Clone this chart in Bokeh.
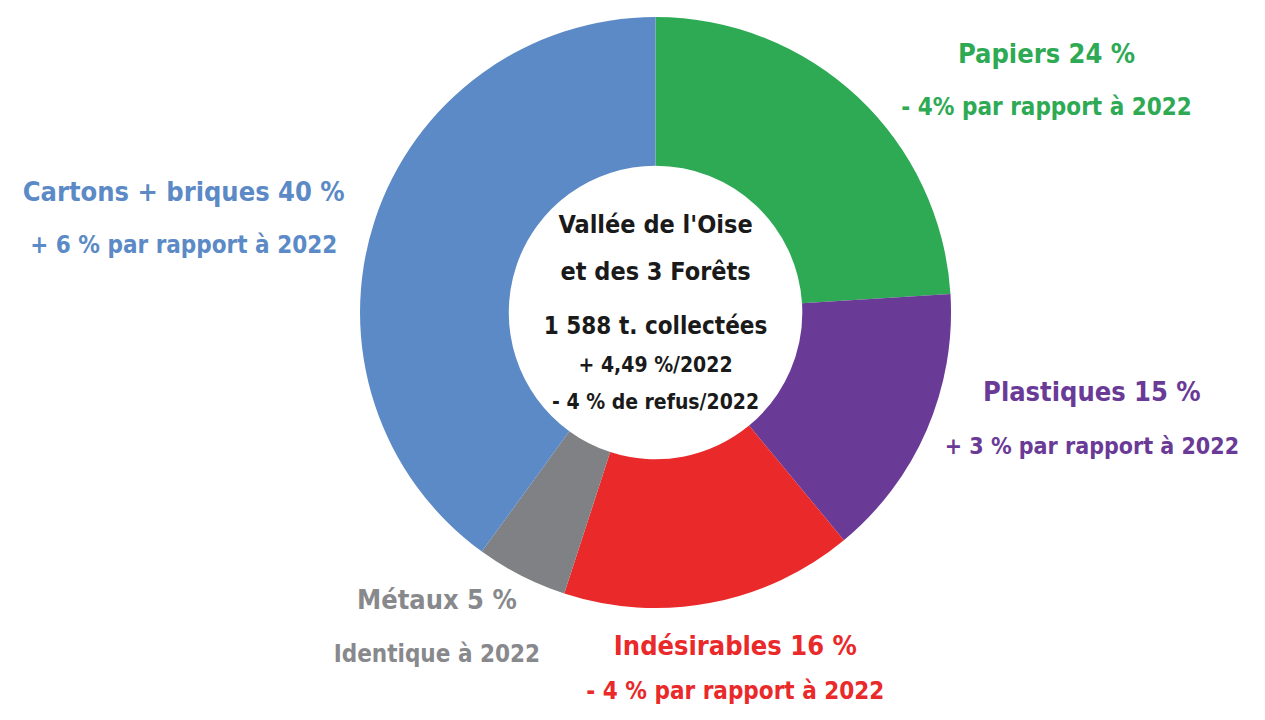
import math
from bokeh.plotting import figure
from bokeh.models import ColumnDataSource, Range1d
from bokeh.core.properties import value
from bokeh.embed import file_html
from bokeh.resources import INLINE

# ---- data ----
categories = ["Papiers", "Plastiques", "Indésirables", "Métaux", "Cartons + briques"]
shares = [24, 15, 16, 5, 40]
labels = ["Papiers 24 %", "Plastiques 15 %", "Indésirables 16 %", "Métaux 5 %", "Cartons + briques 40 %"]
sublabels = ["- 4% par rapport à 2022", "+ 3 % par rapport à 2022", "- 4 % par rapport à 2022",
             "Identique à 2022", "+ 6 % par rapport à 2022"]
center_lines = ["Vallée de l'Oise", "et des 3 Forêts", "1 588 t. collectées", "+ 4,49 %/2022", "- 4 % de refus/2022"]

# ---- styles / layout ----
colors = ["#2EAA54", "#6A3A97", "#E9292A", "#7F8185", "#5B8AC6"]
text_colors = ["#2EAA54", "#6A3A97", "#E9292A", "#88898C", "#5B8AC6"]
FONT = "DejaVu Sans Condensed"
W, H = 1249, 704
REF_H = 720
cx, cy = 655, REF_H - 312
R_OUT, R_IN = 300, 149

# label positions in reference pixels (x, y of title line, y of subtitle line)
label_pos = [(1052, 48, 102), (1098, 393, 448), (736, 652, 698), (433, 605, 660), (176, 188, 243)]
sub_size = ["24px", "23px", "24px", "24px", "24px"]
center_y = [222, 270, 326, 366, 403]
center_size = ["25px", "25px", "24px", "21px", "21px"]

total = float(sum(shares))
starts, ends = [], []
a = math.pi / 2
for s in shares:
    starts.append(a)
    a -= s / total * 2 * math.pi
    ends.append(a)

src = ColumnDataSource(dict(cat=categories, start=starts, end=ends, color=colors))

p = figure(width=W, height=H, output_backend="svg", toolbar_location=None,
           x_range=Range1d(-10, 1258), y_range=Range1d(8, 726.4),
           min_border=0, outline_line_color=None, background_fill_color="white")
p.axis.visible = False
p.grid.visible = False

p.annular_wedge(x=cx, y=cy, inner_radius=R_IN, outer_radius=R_OUT,
                start_angle="start", end_angle="end", direction="clock",
                color="color", line_color=None, source=src)

for lab, sub, col, (lx, ly1, ly2), ss in zip(labels, sublabels, text_colors, label_pos, sub_size):
    p.text(x=[lx], y=[REF_H - ly1], text=[lab], text_color=col, text_font=value(FONT),
           text_font_style="bold", text_font_size="27px", text_align="center", text_baseline="middle")
    p.text(x=[lx], y=[REF_H - ly2], text=[sub], text_color=col, text_font=value(FONT),
           text_font_style="bold", text_font_size=ss, text_align="center", text_baseline="middle")

for line, yy, fs in zip(center_lines, center_y, center_size):
    p.text(x=[cx], y=[REF_H - yy], text=[line], text_color="#1a1a1a", text_font=value(FONT),
           text_font_style="bold", text_font_size=fs, text_align="center", text_baseline="middle")

open("out.html", "w").write(file_html(p, INLINE))
